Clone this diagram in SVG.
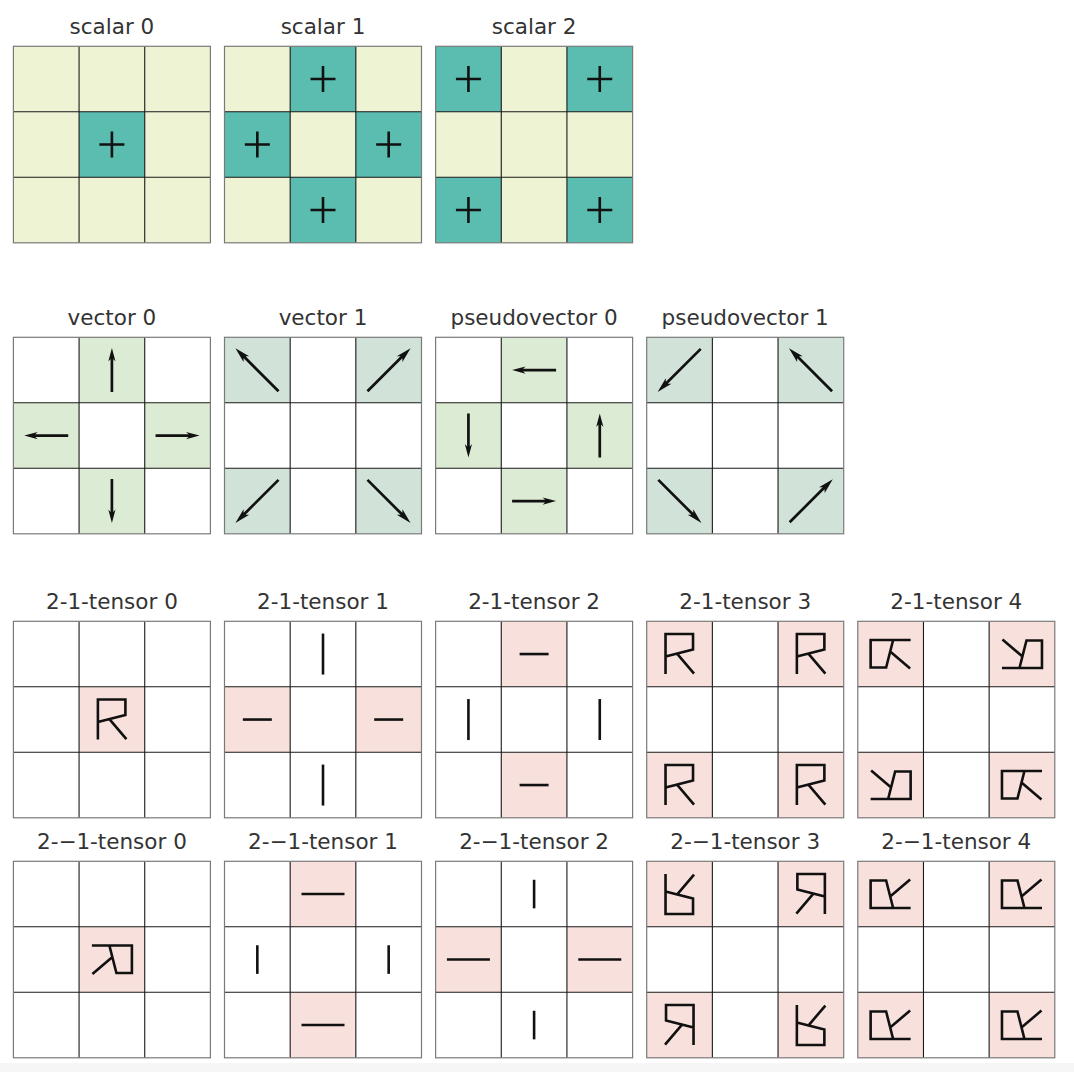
<svg xmlns="http://www.w3.org/2000/svg" xmlns:xlink="http://www.w3.org/1999/xlink" width="1074" height="1072" viewBox="0 0 1074 1072">
<style>
.yl{fill:#eef3d3}.tl{fill:#5bbdb0}.g1{fill:#dcebd3}.g2{fill:#d1e3d8}.pk{fill:#f8e1dc}
.ttl{font-family:"DejaVu Sans",sans-serif;font-size:21.5px;fill:#333333;text-anchor:middle}
</style>
<defs>
<g id="grid">
<path d="M65.67,0V196.5M131.33,0V196.5M0,65.5H197M0,131H197" fill="none" stroke="#1a1a1a" stroke-width="1.1"/>
<rect width="197" height="196.5" fill="none" stroke="#7a7a7a" stroke-width="1.2"/>
</g>
<path id="plus" d="M-12.5,0H12.5M0,-13V13" fill="none" stroke="#111" stroke-width="2.6"/>
<path id="R" d="M-14,20V-20H13.5V-4.5L-14,2.5M-2.5,-0.5L14.5,19.5" fill="none" stroke="#111" stroke-width="2.6" stroke-linejoin="miter"/>
<path id="hs" d="M-14.5,0H14.5" fill="none" stroke="#111" stroke-width="2.6"/>
<path id="hl" d="M-21.5,0H21.5" fill="none" stroke="#111" stroke-width="2.6"/>
<path id="vs" d="M0,-14.3V14.3" fill="none" stroke="#111" stroke-width="2.6"/>
<path id="vl" d="M0,-20.5V20.5" fill="none" stroke="#111" stroke-width="2.6"/>
<path id="a22" d="M-22,-1.35L11,-1.35L8.5,-3.6L22,0L8.5,3.6L11,1.35L-22,1.35Z" fill="#111"/>
<path id="a30" d="M-30,-1.35L18,-1.35L15.5,-4L31,0L15.5,4L18,1.35L-30,1.35Z" fill="#111"/>
</defs>
<rect width="1074" height="1072" fill="#ffffff"/>
<rect y="1063" width="1074" height="9" fill="#f6f6f6"/>

<!-- Row 1: scalars -->
<g id="scalar-0" transform="translate(13.4,46.3)">
<text class="ttl" x="98.5" y="-12.5">scalar 0</text>
<rect class="yl" width="197" height="196.5"/>
<rect class="tl" x="65.67" y="65.5" width="65.67" height="65.5"/>
<use href="#plus" x="98.5" y="98.25"/>
<use href="#grid"/>
</g>
<g id="scalar-1" transform="translate(224.5,46.3)">
<text class="ttl" x="98.5" y="-12.5">scalar 1</text>
<rect class="yl" width="197" height="196.5"/>
<rect class="tl" x="65.67" y="0" width="65.67" height="65.5"/>
<rect class="tl" x="0" y="65.5" width="65.67" height="65.5"/>
<rect class="tl" x="131.33" y="65.5" width="65.67" height="65.5"/>
<rect class="tl" x="65.67" y="131" width="65.67" height="65.5"/>
<use href="#plus" x="98.5" y="32.75"/>
<use href="#plus" x="32.83" y="98.25"/>
<use href="#plus" x="164.17" y="98.25"/>
<use href="#plus" x="98.5" y="163.75"/>
<use href="#grid"/>
</g>
<g id="scalar-2" transform="translate(435.6,46.3)">
<text class="ttl" x="98.5" y="-12.5">scalar 2</text>
<rect class="yl" width="197" height="196.5"/>
<rect class="tl" x="0" y="0" width="65.67" height="65.5"/>
<rect class="tl" x="131.33" y="0" width="65.67" height="65.5"/>
<rect class="tl" x="0" y="131" width="65.67" height="65.5"/>
<rect class="tl" x="131.33" y="131" width="65.67" height="65.5"/>
<use href="#plus" x="32.83" y="32.75"/>
<use href="#plus" x="164.17" y="32.75"/>
<use href="#plus" x="32.83" y="163.75"/>
<use href="#plus" x="164.17" y="163.75"/>
<use href="#grid"/>
</g>

<!-- Row 2: vectors -->
<g id="vector-0" transform="translate(13.4,337.3)">
<text class="ttl" x="98.5" y="-12.5">vector 0</text>
<rect fill="#fff" width="197" height="196.5"/>
<rect class="g1" x="65.67" y="0" width="65.67" height="65.5"/>
<rect class="g1" x="0" y="65.5" width="65.67" height="65.5"/>
<rect class="g1" x="131.33" y="65.5" width="65.67" height="65.5"/>
<rect class="g1" x="65.67" y="131" width="65.67" height="65.5"/>
<use href="#a22" transform="translate(98.5,32.75) rotate(-90)"/>
<use href="#a22" transform="translate(32.83,98.25) rotate(180)"/>
<use href="#a22" transform="translate(164.17,98.25)"/>
<use href="#a22" transform="translate(98.5,163.75) rotate(90)"/>
<use href="#grid"/>
</g>
<g id="vector-1" transform="translate(224.5,337.3)">
<text class="ttl" x="98.5" y="-12.5">vector 1</text>
<rect fill="#fff" width="197" height="196.5"/>
<rect class="g2" x="0" y="0" width="65.67" height="65.5"/>
<rect class="g2" x="131.33" y="0" width="65.67" height="65.5"/>
<rect class="g2" x="0" y="131" width="65.67" height="65.5"/>
<rect class="g2" x="131.33" y="131" width="65.67" height="65.5"/>
<use href="#a30" transform="translate(32.83,32.75) rotate(-135)"/>
<use href="#a30" transform="translate(164.17,32.75) rotate(-45)"/>
<use href="#a30" transform="translate(32.83,163.75) rotate(135)"/>
<use href="#a30" transform="translate(164.17,163.75) rotate(45)"/>
<use href="#grid"/>
</g>
<g id="pseudovector-0" transform="translate(435.6,337.3)">
<text class="ttl" x="98.5" y="-12.5">pseudovector 0</text>
<rect fill="#fff" width="197" height="196.5"/>
<rect class="g1" x="65.67" y="0" width="65.67" height="65.5"/>
<rect class="g1" x="0" y="65.5" width="65.67" height="65.5"/>
<rect class="g1" x="131.33" y="65.5" width="65.67" height="65.5"/>
<rect class="g1" x="65.67" y="131" width="65.67" height="65.5"/>
<use href="#a22" transform="translate(98.5,32.75) rotate(180)"/>
<use href="#a22" transform="translate(32.83,98.25) rotate(90)"/>
<use href="#a22" transform="translate(164.17,98.25) rotate(-90)"/>
<use href="#a22" transform="translate(98.5,163.75)"/>
<use href="#grid"/>
</g>
<g id="pseudovector-1" transform="translate(646.7,337.3)">
<text class="ttl" x="98.5" y="-12.5">pseudovector 1</text>
<rect fill="#fff" width="197" height="196.5"/>
<rect class="g2" x="0" y="0" width="65.67" height="65.5"/>
<rect class="g2" x="131.33" y="0" width="65.67" height="65.5"/>
<rect class="g2" x="0" y="131" width="65.67" height="65.5"/>
<rect class="g2" x="131.33" y="131" width="65.67" height="65.5"/>
<use href="#a30" transform="translate(32.83,32.75) rotate(135)"/>
<use href="#a30" transform="translate(164.17,32.75) rotate(-135)"/>
<use href="#a30" transform="translate(32.83,163.75) rotate(45)"/>
<use href="#a30" transform="translate(164.17,163.75) rotate(-45)"/>
<use href="#grid"/>
</g>

<!-- Row 3: 2-1-tensors -->
<g id="t21-0" transform="translate(13.4,621.3)">
<text class="ttl" x="98.5" y="-12.5">2-1-tensor 0</text>
<rect fill="#fff" width="197" height="196.5"/>
<rect class="pk" x="65.67" y="65.5" width="65.67" height="65.5"/>
<use href="#R" transform="translate(98.5,98.25)"/>
<use href="#grid"/>
</g>
<g id="t21-1" transform="translate(224.5,621.3)">
<text class="ttl" x="98.5" y="-12.5">2-1-tensor 1</text>
<rect fill="#fff" width="197" height="196.5"/>
<rect class="pk" x="0" y="65.5" width="65.67" height="65.5"/>
<rect class="pk" x="131.33" y="65.5" width="65.67" height="65.5"/>
<use href="#hs" x="32.83" y="98.25"/>
<use href="#hs" x="164.17" y="98.25"/>
<use href="#vl" x="98.5" y="32.75"/>
<use href="#vl" x="98.5" y="163.75"/>
<use href="#grid"/>
</g>
<g id="t21-2" transform="translate(435.6,621.3)">
<text class="ttl" x="98.5" y="-12.5">2-1-tensor 2</text>
<rect fill="#fff" width="197" height="196.5"/>
<rect class="pk" x="65.67" y="0" width="65.67" height="65.5"/>
<rect class="pk" x="65.67" y="131" width="65.67" height="65.5"/>
<use href="#hs" x="98.5" y="32.75"/>
<use href="#hs" x="98.5" y="163.75"/>
<use href="#vl" x="32.83" y="98.25"/>
<use href="#vl" x="164.17" y="98.25"/>
<use href="#grid"/>
</g>
<g id="t21-3" transform="translate(646.7,621.3)">
<text class="ttl" x="98.5" y="-12.5">2-1-tensor 3</text>
<rect fill="#fff" width="197" height="196.5"/>
<rect class="pk" x="0" y="0" width="65.67" height="65.5"/>
<rect class="pk" x="131.33" y="0" width="65.67" height="65.5"/>
<rect class="pk" x="0" y="131" width="65.67" height="65.5"/>
<rect class="pk" x="131.33" y="131" width="65.67" height="65.5"/>
<use href="#R" transform="translate(32.83,32.75)"/>
<use href="#R" transform="translate(164.17,32.75)"/>
<use href="#R" transform="translate(32.83,163.75)"/>
<use href="#R" transform="translate(164.17,163.75)"/>
<use href="#grid"/>
</g>
<g id="t21-4" transform="translate(857.8,621.3)">
<text class="ttl" x="98.5" y="-12.5">2-1-tensor 4</text>
<rect fill="#fff" width="197" height="196.5"/>
<rect class="pk" x="0" y="0" width="65.67" height="65.5"/>
<rect class="pk" x="131.33" y="0" width="65.67" height="65.5"/>
<rect class="pk" x="0" y="131" width="65.67" height="65.5"/>
<rect class="pk" x="131.33" y="131" width="65.67" height="65.5"/>
<use href="#R" transform="translate(32.83,32.75) matrix(0,1,1,0,0,0)"/>
<use href="#R" transform="translate(164.17,32.75) matrix(0,-1,-1,0,0,0)"/>
<use href="#R" transform="translate(32.83,163.75) matrix(0,-1,-1,0,0,0)"/>
<use href="#R" transform="translate(164.17,163.75) matrix(0,1,1,0,0,0)"/>
<use href="#grid"/>
</g>

<!-- Row 4: 2-−1-tensors -->
<g id="t2m1-0" transform="translate(13.4,861.3)">
<text class="ttl" x="98.5" y="-12.5">2-−1-tensor 0</text>
<rect fill="#fff" width="197" height="196.5"/>
<rect class="pk" x="65.67" y="65.5" width="65.67" height="65.5"/>
<use href="#R" transform="translate(98.5,98.25) rotate(90)"/>
<use href="#grid"/>
</g>
<g id="t2m1-1" transform="translate(224.5,861.3)">
<text class="ttl" x="98.5" y="-12.5">2-−1-tensor 1</text>
<rect fill="#fff" width="197" height="196.5"/>
<rect class="pk" x="65.67" y="0" width="65.67" height="65.5"/>
<rect class="pk" x="65.67" y="131" width="65.67" height="65.5"/>
<use href="#hl" x="98.5" y="32.75"/>
<use href="#hl" x="98.5" y="163.75"/>
<use href="#vs" x="32.83" y="98.25"/>
<use href="#vs" x="164.17" y="98.25"/>
<use href="#grid"/>
</g>
<g id="t2m1-2" transform="translate(435.6,861.3)">
<text class="ttl" x="98.5" y="-12.5">2-−1-tensor 2</text>
<rect fill="#fff" width="197" height="196.5"/>
<rect class="pk" x="0" y="65.5" width="65.67" height="65.5"/>
<rect class="pk" x="131.33" y="65.5" width="65.67" height="65.5"/>
<use href="#hl" x="32.83" y="98.25"/>
<use href="#hl" x="164.17" y="98.25"/>
<use href="#vs" x="98.5" y="32.75"/>
<use href="#vs" x="98.5" y="163.75"/>
<use href="#grid"/>
</g>
<g id="t2m1-3" transform="translate(646.7,861.3)">
<text class="ttl" x="98.5" y="-12.5">2-−1-tensor 3</text>
<rect fill="#fff" width="197" height="196.5"/>
<rect class="pk" x="0" y="0" width="65.67" height="65.5"/>
<rect class="pk" x="131.33" y="0" width="65.67" height="65.5"/>
<rect class="pk" x="0" y="131" width="65.67" height="65.5"/>
<rect class="pk" x="131.33" y="131" width="65.67" height="65.5"/>
<use href="#R" transform="translate(32.83,32.75) scale(1,-1)"/>
<use href="#R" transform="translate(164.17,32.75) scale(-1,1)"/>
<use href="#R" transform="translate(32.83,163.75) scale(-1,1)"/>
<use href="#R" transform="translate(164.17,163.75) scale(1,-1)"/>
<use href="#grid"/>
</g>
<g id="t2m1-4" transform="translate(857.8,861.3)">
<text class="ttl" x="98.5" y="-12.5">2-−1-tensor 4</text>
<rect fill="#fff" width="197" height="196.5"/>
<rect class="pk" x="0" y="0" width="65.67" height="65.5"/>
<rect class="pk" x="131.33" y="0" width="65.67" height="65.5"/>
<rect class="pk" x="0" y="131" width="65.67" height="65.5"/>
<rect class="pk" x="131.33" y="131" width="65.67" height="65.5"/>
<use href="#R" transform="translate(32.83,32.75) rotate(-90)"/>
<use href="#R" transform="translate(164.17,32.75) rotate(-90)"/>
<use href="#R" transform="translate(32.83,163.75) rotate(-90)"/>
<use href="#R" transform="translate(164.17,163.75) rotate(-90)"/>
<use href="#grid"/>
</g>
<g id="connectors"/>
</svg>
